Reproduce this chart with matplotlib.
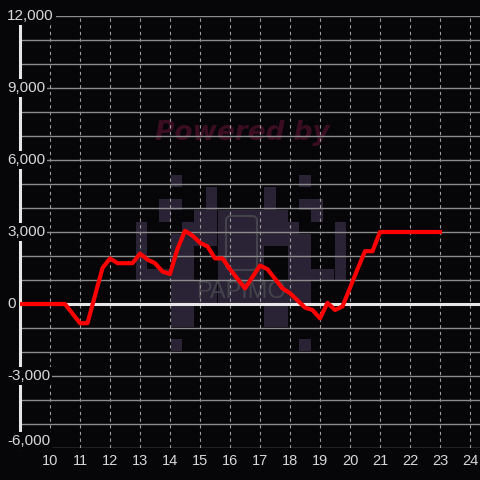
import matplotlib.pyplot as plt
from matplotlib.patches import Rectangle, FancyBboxPatch

# line data (hour of day -> value)
hours = [9, 10.5, 11, 11.25, 11.75, 12, 12.25, 12.75, 13, 13.25, 13.5, 13.75,
         14, 14.25, 14.5, 14.75, 15, 15.25, 15.5, 15.75, 16, 16.5, 17, 17.25,
         17.75, 18, 18.5, 18.75, 19, 19.25, 19.5, 19.75, 20.25, 20.5, 20.75,
         21, 23]
values = [0, 0, -800, -800, 1500, 1900, 1700, 1700, 2100, 1850, 1700, 1350,
          1250, 2300, 3050, 2850, 2550, 2400, 1900, 1900, 1450, 650, 1600, 1450,
          650, 450, -150, -250, -600, 50, -250, -100, 1450, 2200, 2200,
          3000, 3000]

x_ticks = list(range(10, 25))
y_ticks = [-6000, -3000, 0, 3000, 6000, 9000, 12000]
y_tick_labels = ["-6,000", "-3,000", "0", "3,000", "6,000", "9,000", "12,000"]

# watermark pixel logo
logo = [
    "...X..........X...",
    "......X....X......",
    "..XX..X....X..XX..",
    "..X..XXXXXXXX..X..",
    "X...XXXXXXXXXX...X",
    "X..XXXXXXXXXXXX..X",
    "X..XX..XXXX..XX..X",
    "X..XX..XXXX..XX..X",
    "XXXXX..XXXX..XXXXX",
    "...XXXXXXXXXXXX...",
    "...XXXXXXXXXXXX...",
    "...XX......XX.....",
    "...XX......XX.....",
    "..................",
    "...X..........X...",
]

BG = "#060508"
FG = "#d8d8d8"

plt.rcParams["font.family"] = ["Liberation Sans", "DejaVu Sans"]

fig = plt.figure(figsize=(4.8, 4.8), dpi=100, facecolor=BG)

# background layer in pixel units for the watermark
bg = fig.add_axes([0, 0, 1, 1], zorder=0)
bg.set_xlim(0, 480)
bg.set_ylim(480, 0)
bg.axis("off")
bg.set_facecolor(BG)
cell = 11.7
for r, row in enumerate(logo):
    for c, ch in enumerate(row):
        if ch == "X":
            bg.add_patch(Rectangle((135.6 + c * cell, 175.3 + r * cell), cell, cell,
                                   facecolor="#2a2336", edgecolor="none"))
bg.add_patch(FancyBboxPatch((226, 216), 31, 54, boxstyle="round,pad=0,rounding_size=5",
                            facecolor="none", edgecolor="#44424a", linewidth=1.5))
bg.text(241, 292, "PAPIMO", color="#44424a", fontsize=17, ha="center", va="center",
        family=["Liberation Sans Narrow", "Liberation Sans"])
bg.text(242, 133, "Powered by", color="#3a0d21", fontsize=19, fontweight="bold",
        fontstyle="italic", ha="center", va="center", family="DejaVu Sans")

ax = fig.add_axes([20 / 480, 32 / 480, 460 / 480, 432 / 480], zorder=1)
ax.patch.set_alpha(0)
ax.set_xlim(9, 9 + 460 / 30)
ax.set_ylim(-6000, 12000)

for s in ["top", "right", "bottom"]:
    ax.spines[s].set_visible(False)
ax.spines["left"].set_color("#e6e6e6")
ax.spines["left"].set_linewidth(2.2)
ax.spines["left"].set_zorder(3)

ax.set_yticks(range(-6000, 12001, 1000))
ax.set_xticks(x_ticks)
ax.tick_params(left=False, bottom=False, labelleft=False, labelbottom=False)
ax.grid(axis="y", color="#8c8c8c", linewidth=1, linestyle="-")
ax.grid(axis="x", color="#9a9a9a", linewidth=0.8, linestyle=(0, (3, 3)))
ax.set_axisbelow(True)

ax.axhline(0, color="#e6e6e6", linewidth=2.2, zorder=4)
ax.plot(hours, values, color="#ff0000", linewidth=3, zorder=5)

# y labels sit inside the plot, left aligned, on a background box
for v, lab in zip(y_ticks, y_tick_labels):
    va = "bottom" if v == -6000 else "center"
    ax.text((7 - 20) / 460, v, lab, color=FG, fontsize=11,
            ha="left", va=va, transform=ax.get_yaxis_transform(), zorder=10,
            clip_on=False,
            bbox=dict(facecolor=BG, edgecolor="none", pad=1.5))

for x in x_ticks:
    ax.text(x, -0.03, str(x), color=FG, fontsize=10.5, ha="center", va="center",
            transform=ax.get_xaxis_transform(), clip_on=False)

fig.savefig("out.png", dpi=100, facecolor=BG)
